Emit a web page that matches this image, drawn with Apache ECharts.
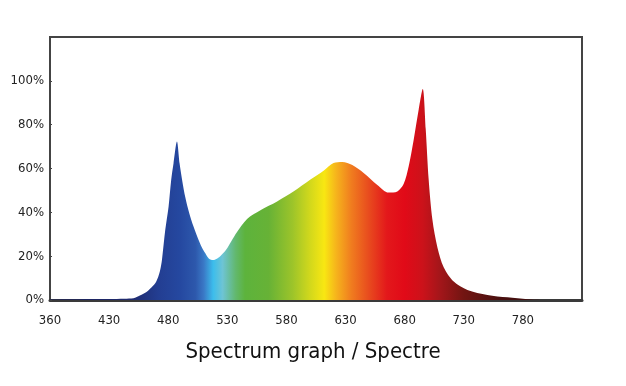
<!DOCTYPE html>
<html>
<head>
<meta charset="utf-8">
<script src="https://cdn.jsdelivr.net/npm/echarts@6/dist/echarts.min.js"></script>
<style>
html,body{margin:0;padding:0;background:#fff;}
#chart{width:626px;height:386px;}
</style>
</head>
<body>
<div id="chart"></div>
<script>
// Wavelength positions along the axis (nm, axis units)
const wavelengths = [380, 400, 418, 430, 443, 450.6, 456, 461.9, 466, 469, 471.5, 473.2, 474.7, 477.5, 480.3, 482.5, 484.5, 487.4, 489.6, 492, 494.4, 497.8, 501.4, 505.7, 508.5, 511.4, 514.5, 518, 521.5, 525, 529.7, 533, 538.2, 546.7, 558, 572.1, 585.9, 600.3, 611.4, 619.8, 627.2, 635.7, 645.3, 656.9, 666.4, 673.8, 679.2, 683.4, 687.6, 691.9, 695.3, 697.8, 700.3, 703.5, 707.7, 713, 721.5, 733.1, 750, 767, 784, 795, 830];
// Relative intensity (%)
const intensity   = [0.2, 0.3, 0.4, 0.5, 0.6, 0.8, 2.0, 3.8, 5.8, 7.6, 10.5, 13.7, 18.3, 32, 42.6, 54.8, 62.4, 72.3, 62.4, 54, 47, 39.6, 33.5, 27.4, 24, 21.3, 18.8, 18.2, 18.9, 20.5, 23.5, 26.5, 31, 37, 41, 45, 49.5, 55, 59, 62.5, 63, 61.6, 58, 52.5, 49, 49.5, 53, 61, 73, 87, 96.3, 78, 55, 36.5, 24, 15, 8.4, 4.6, 2.3, 1.2, 0.3, 0, 0];

const xTickLabels = ['360', '430', '480', '530', '580', '630', '680', '730', '780', ''];
const yTickLabels = ['0%', '20%', '40%', '60%', '80%', '100%', ''];
const titleText = 'Spectrum graph / Spectre';

// Spectral colour stops: [wavelength, colour]
const colorStops = [
  [380, '#1c2155'], [450, '#1f2b70'], [472, '#233e92'], [490, '#2548a0'],
  [503, '#2d58ac'], [510, '#3a78c6'], [518, '#3cbdec'], [526, '#6ec4d4'],
  [537, '#62b86e'], [545, '#5db33c'], [565, '#67b236'], [585, '#9cc42a'],
  [600, '#d2d81c'], [612, '#f8e712'], [622, '#f6b41c'], [635, '#f07c1f'],
  [650, '#e84a1e'], [665, '#e3181b'], [680, '#e10a18'], [695, '#cc121a'],
  [710, '#a3161a'], [730, '#721512'], [760, '#4a1010'], [830, '#2a0a0a']
];

const xMin = 380, xMax = 830;
const font = "'Liberation Sans Narrow', 'DejaVu Sans Condensed', 'Liberation Sans', sans-serif";

const chart = echarts.init(document.getElementById('chart'), null, {renderer: 'canvas'});
chart.setOption({
  animation: false,
  backgroundColor: '#fff',
  title: {
    text: titleText,
    left: 'center',
    top: 336,
    textStyle: {fontFamily: font, fontSize: 22, fontWeight: 'normal', color: '#111'}
  },
  grid: {
    left: 50, right: 44, top: 37, bottom: 86,
    show: true, borderColor: '#444', borderWidth: 2, backgroundColor: 'transparent'
  },
  xAxis: {
    type: 'value', min: xMin, max: xMax, interval: 50,
    axisLine: {show: true, onZero: false, lineStyle: {color: '#3a3a3a', width: 3}},
    axisTick: {show: false},
    splitLine: {show: false},
    axisLabel: {
      margin: 14, fontFamily: font, fontSize: 13, color: '#222',
      showMinLabel: true, showMaxLabel: true,
      formatter: v => xTickLabels[Math.round((v - xMin) / 50)] || ''
    }
  },
  yAxis: {
    type: 'value', min: 0, max: 120, interval: 20,
    axisLine: {show: true, lineStyle: {color: '#444', width: 2}},
    axisTick: {show: true, inside: true, length: 2, lineStyle: {color: '#444'}},
    splitLine: {show: false},
    axisLabel: {
      margin: 6, fontFamily: font, fontSize: 13, color: '#222',
      formatter: v => yTickLabels[Math.round(v / 20)] || ''
    }
  },
  series: [{
    type: 'line',
    data: wavelengths.map((w, i) => [w, intensity[i]]),
    showSymbol: false,
    smooth: 0.3,
    lineStyle: {width: 0, opacity: 0},
    areaStyle: {
      opacity: 1,
      color: new echarts.graphic.LinearGradient(0, 0, 1, 0,
        colorStops.map(s => ({offset: (s[0] - xMin) / (xMax - xMin), color: s[1]})))
    },
    z: 1
  }]
});
</script>
</body>
</html>
